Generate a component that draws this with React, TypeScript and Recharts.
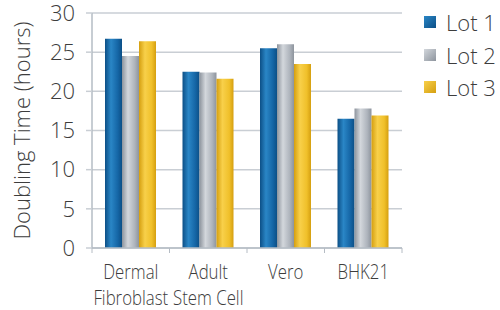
import React from "react";
import {
  BarChart,
  Bar,
  XAxis,
  YAxis,
  CartesianGrid,
} from "recharts";

// categories on the x axis (split into two label lines)
const cellLines = ["Dermal\nFibroblast", "Adult\nStem Cell", "Vero", "BHK21"];
const lot1 = [26.7, 22.5, 25.5, 16.5];
const lot2 = [24.5, 22.4, 26.0, 17.8];
const lot3 = [26.4, 21.6, 23.5, 16.9];
const yTicks = [0, 5, 10, 15, 20, 25, 30];

const series = [
  { key: "lot1", name: "Lot 1", edge: "#0c4f86", mid: "#2a86c6", swatch: "#1566a6" },
  { key: "lot2", name: "Lot 2", edge: "#8d949d", mid: "#d3d7dc", swatch: "#aeb4bc" },
  { key: "lot3", name: "Lot 3", edge: "#d59f10", mid: "#f8d04a", swatch: "#f0c02a" },
];

const data = cellLines.map((c, i) => ({
  cell: c,
  lot1: lot1[i],
  lot2: lot2[i],
  lot3: lot3[i],
}));

const W = 500;
const H = 310;
const M = { top: 13, right: 98, left: 0, bottom: 0 };
const Y_W = 92;
const X_H = 62;
const BAND = (W - M.left - M.right - Y_W) / cellLines.length;

const textColor = "#3d3d3d";
const font = "'Open Sans', 'Noto Sans', sans-serif";

const XTick = (props: any) => {
  const { x, y, payload, index } = props;
  const lines = String(payload.value).split("\n");
  return (
    <g>
      {index === 0 && (
        <line x1={x - BAND / 2} x2={x - BAND / 2} y1={y - 8} y2={y - 3} stroke="#b5bcc4" />
      )}
      <line x1={x + BAND / 2} x2={x + BAND / 2} y1={y - 8} y2={y - 3} stroke="#b5bcc4" />
      {lines.map((l, i) => (
        <text
          key={i}
          transform={`translate(${x}, ${y + 23 + i * 26}) scale(0.8, 1)`}
          textAnchor="middle"
          fill={textColor}
          fontFamily={font}
          fontWeight={300}
          fontSize={21}
        >
          {l}
        </text>
      ))}
    </g>
  );
};

const ChartLegend = () => (
  <div
    style={{
      position: "absolute",
      left: 424,
      top: 6,
      fontFamily: font,
      fontWeight: 300,
      fontSize: 22,
      color: textColor,
    }}
  >
    {series.map((s) => (
      <div key={s.key} style={{ display: "flex", alignItems: "center", height: 32.5 }}>
        <span
          style={{
            display: "inline-block",
            width: 12,
            height: 12,
            marginRight: 10,
            background: `linear-gradient(135deg, ${s.mid}, ${s.edge})`,
          }}
        />
        {s.name}
      </div>
    ))}
  </div>
);

export default function App() {
  return (
    <div style={{ position: "fixed", left: 0, top: 0, width: W, height: H, background: "#fff" }}>
      <BarChart
        width={W}
        height={H}
        data={data}
        margin={M}
        barGap={0}
        barCategoryGap={13}
      >
        <defs>
          {series.map((s) => (
            <linearGradient key={s.key} id={`g-${s.key}`} x1="0" y1="0" x2="1" y2="0">
              <stop offset="0%" stopColor={s.edge} />
              <stop offset="35%" stopColor={s.mid} />
              <stop offset="75%" stopColor={s.swatch} />
              <stop offset="100%" stopColor={s.edge} />
            </linearGradient>
          ))}
        </defs>
        <CartesianGrid vertical={false} stroke="#c9ced4" strokeWidth={1.5} />
        <XAxis
          dataKey="cell"
          height={X_H}
          tickLine={false}
          axisLine={{ stroke: "#b5bcc4", strokeWidth: 1.5 }}
          tick={<XTick />}
          interval={0}
        />
        <YAxis
          width={Y_W}
          domain={[0, 30]}
          ticks={yTicks}
          tickSize={6}
          tickMargin={11}
          tickLine={{ stroke: "#c9ced4", strokeWidth: 1.5 }}
          axisLine={{ stroke: "#b5bcc4", strokeWidth: 1.5 }}
          tick={{ fill: textColor, fontSize: 22, fontFamily: font, fontWeight: 300 }}
          label={{
            value: "Doubling Time (hours)",
            angle: -90,
            position: "insideLeft",
            offset: 22,
            style: {
              fill: textColor,
              fontSize: 22,
              fontFamily: font,
              fontWeight: 300,
              textAnchor: "middle",
            },
          }}
        />
        {series.map((s) => (
          <Bar
            key={s.key}
            dataKey={s.key}
            name={s.name}
            fill={`url(#g-${s.key})`}
            isAnimationActive={false}
          />
        ))}
      </BarChart>
      <ChartLegend />
    </div>
  );
}
